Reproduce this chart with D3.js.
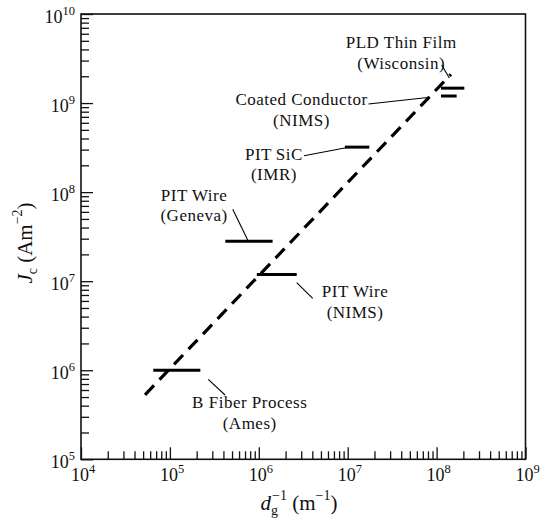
<!DOCTYPE html>
<html>
<head>
<meta charset="utf-8">
<script src="https://cdn.jsdelivr.net/npm/d3@7/dist/d3.min.js"></script>
<style>
  html, body { margin: 0; padding: 0; background: #fff; }
  svg text { fill: #111; }
</style>
</head>
<body>
<svg id="chart" width="542" height="519"></svg>
<script>
// Critical current density vs. inverse grain size for MgB2 conductors
const xDomain = [1e4, 1e9];
const yDomain = [1e5, 1e10];
const xMajorTicks = [1e4, 1e5, 1e6, 1e7, 1e8, 1e9];
const yMajorTicks = [1e5, 1e6, 1e7, 1e8, 1e9, 1e10];

// Measured ranges: [dg^-1 min, dg^-1 max, Jc]
const sampleNames = ["B Fiber Process", "PIT Wire NIMS", "PIT Wire Geneva", "PIT SiC", "PLD Thin Film", "Coated Conductor"];
const rangeMin = [6.5e4, 9.5e5, 4.2e5, 9.3e6, 1.12e8, 1.12e8];
const rangeMax = [2.2e5, 2.67e6, 1.43e6, 1.75e7, 2.05e8, 1.68e8];
const rangeJc  = [1.0e6, 1.19e7, 2.8e7, 3.2e8, 1.47e9, 1.2e9];

// Trend line Jc ~ dg^-1
const trendX = [5.25e4, 1.45e8];
const trendY = [5.3e5, 2.1e9];

// Annotations: two-line label at (lx, ly) and a leader from (ax, ay) to (bx, by), data units
const annLine1 = ["PLD Thin Film", "Coated Conductor", "PIT\u2009SiC", "PIT Wire", "PIT Wire", "B Fiber Process"];
const annLine2 = ["(Wisconsin)", "(NIMS)", "(IMR)", "(Geneva)", "(NIMS)", "(Ames)"];
const annLx = [4.0e7, 3.02e6, 1.48e6, 1.87e5, 1.21e7, 7.9e5];
const annLy = [4.15e9, 9.5e8, 2.3e8, 8.0e7, 6.56e6, 3.74e5];
const annAx = [1.14e8, 1.71e7, 3.22e6, 5.09e5, 2.67e6, 2.7e5];
const annAy = [2.67e9, 9.76e8, 2.56e8, 6.41e7, 9.62e6, 7.91e5];
const annBx = [1.39e8, 8.43e7, 9.57e6, 7.62e5, 4.04e6, 4.17e5];
const annBy = [1.91e9, 1.16e9, 3.15e8, 2.8e7, 6.42e6, 5.27e5];

const plotL = 81, plotR = 525.5, plotT = 14, plotB = 459.3;
const FONT = "'Liberation Serif', 'DejaVu Serif', serif";

const svg = d3.select("#chart").attr("font-family", FONT);
const x = d3.scaleLog().domain(xDomain).range([plotL, plotR]);
const y = d3.scaleLog().domain(yDomain).range([plotB, plotT]);

function minorTicks(domain) {
  const out = [];
  for (let e = Math.log10(domain[0]); e < Math.log10(domain[1]); e++) {
    for (let m = 2; m <= 9; m++) out.push(m * Math.pow(10, e));
  }
  return out;
}

// Ticks point into the plot area
const gx = svg.append("g").attr("transform", `translate(0,${plotB})`);
gx.call(d3.axisBottom(x).tickValues(xMajorTicks).tickSize(-12).tickFormat(""));
gx.append("g").call(d3.axisBottom(x).tickValues(minorTicks(xDomain)).tickSize(-8).tickFormat(""));
const gy = svg.append("g").attr("transform", `translate(${plotL},0)`);
gy.call(d3.axisLeft(y).tickValues(yMajorTicks).tickSize(-12).tickFormat(""));
gy.append("g").call(d3.axisLeft(y).tickValues(minorTicks(yDomain)).tickSize(-8).tickFormat(""));
svg.selectAll(".domain").remove();
svg.selectAll(".tick line").attr("stroke", "#111").attr("stroke-width", 1.3);

// Frame
svg.append("rect")
  .attr("x", plotL).attr("y", plotT)
  .attr("width", plotR - plotL).attr("height", plotB - plotT)
  .attr("fill", "none").attr("stroke", "#111").attr("stroke-width", 1.6);

// Power-of-ten tick labels
function powLabel(sel, exp) {
  sel.append("tspan").text("10");
  sel.append("tspan").attr("dy", -8).attr("font-size", 12.5).text(exp);
}
xMajorTicks.forEach(v => {
  const e = Math.round(Math.log10(v));
  const t = svg.append("text")
    .attr("font-family", FONT)
    .attr("x", x(v) - 10).attr("y", plotB + 22)
    .attr("font-size", 18);
  powLabel(t, e);
});
yMajorTicks.forEach(v => {
  const e = Math.round(Math.log10(v));
  const t = svg.append("text")
    .attr("font-family", FONT)
    .attr("x", plotL - 6).attr("y", y(v) + 8.5)
    .attr("text-anchor", "end")
    .attr("font-size", 18);
  powLabel(t, e);
});

// Axis titles
const xt = svg.append("text")
  .attr("font-family", FONT)
  .attr("x", 299).attr("y", 510)
  .attr("text-anchor", "middle").attr("font-size", 21);
xt.append("tspan").attr("font-style", "italic").text("d");
xt.append("tspan").attr("font-size", 14).attr("dy", 5).text("g");
xt.append("tspan").attr("font-size", 14).attr("dx", -6).attr("dy", -15).text("\u22121");
xt.append("tspan").attr("dy", 10).text(" (m");
xt.append("tspan").attr("font-size", 14).attr("dy", -10).text("\u22121");
xt.append("tspan").attr("dy", 10).text(")");

const yt = svg.append("text")
  .attr("font-family", FONT)
  .attr("transform", `translate(32,243) rotate(-90)`)
  .attr("text-anchor", "middle").attr("font-size", 21);
yt.append("tspan").attr("font-style", "italic").text("J");
yt.append("tspan").attr("font-size", 14).attr("dy", 5).text("c");
yt.append("tspan").attr("dy", -5).text(" (Am");
yt.append("tspan").attr("font-size", 14).attr("dy", -10).text("\u22122");
yt.append("tspan").attr("dy", 10).text(")");

// Trend line
svg.append("path")
  .datum(trendX.map((d, i) => [d, trendY[i]]))
  .attr("d", d3.line().x(d => x(d[0])).y(d => y(d[1])))
  .attr("fill", "none").attr("stroke", "#000")
  .attr("stroke-width", 3.2).attr("stroke-dasharray", "13,8");

// Range bars
svg.append("g").selectAll("line")
  .data(sampleNames.map((n, i) => ({ n, a: rangeMin[i], b: rangeMax[i], j: rangeJc[i] })))
  .join("line")
  .attr("x1", d => x(d.a)).attr("x2", d => x(d.b))
  .attr("y1", d => y(d.j)).attr("y2", d => y(d.j))
  .attr("stroke", "#000").attr("stroke-width", 3);

// Leaders and labels
annLine1.forEach((t1, i) => {
  svg.append("line")
    .attr("x1", x(annAx[i])).attr("y1", y(annAy[i]))
    .attr("x2", x(annBx[i])).attr("y2", y(annBy[i]))
    .attr("stroke", "#000").attr("stroke-width", 1.1);
  const lx = x(annLx[i]), ly = y(annLy[i]);
  svg.append("text").attr("font-family", FONT).attr("x", lx).attr("y", ly)
    .attr("text-anchor", "middle").attr("font-size", 17).attr("letter-spacing", 0.5)
    .text(t1);
  svg.append("text").attr("font-family", FONT).attr("x", lx).attr("y", ly + 20.5)
    .attr("text-anchor", "middle").attr("font-size", 17).attr("letter-spacing", 0.5)
    .text(annLine2[i]);
});
</script>
</body>
</html>
